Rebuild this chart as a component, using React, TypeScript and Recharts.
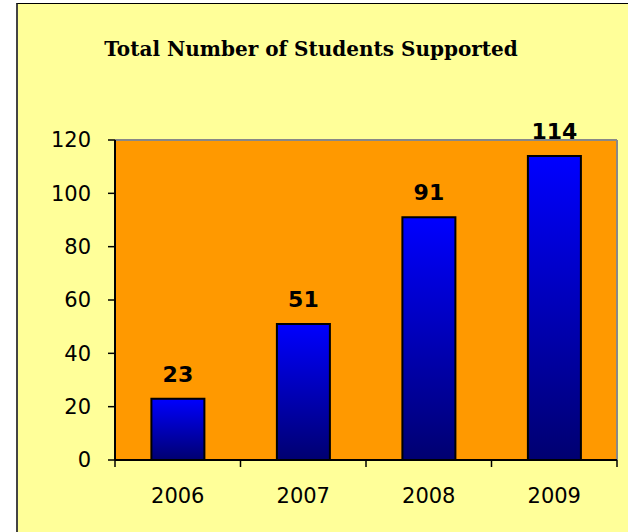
import { ComposedChart, Bar, Line, XAxis, YAxis, LabelList, ReferenceLine } from 'recharts'

// Total Number of Students Supported — Excel-style bar chart, yellow canvas, orange plot area

const YEARS = ['2006', '2007', '2008', '2009']
const STUDENTS = [23, 51, 91, 114]
const Y_TICKS = [0, 20, 40, 60, 80, 100, 120]
const BOUNDARY_TICKS = [0, 1, 2, 3, 4]

const data = YEARS.map((year, i) => ({ year, students: STUDENTS[i], pos: i + 0.5 }))

const FONT = '"DejaVu Sans", Verdana, sans-serif'

// plot box (from chart margins / axis sizes below)
const PLOT = { left: 115, top: 140, right: 617, bottom: 460 }

const NoTick = () => <g />

export default function App() {
  return (
    <div style={{ position: 'absolute', left: 0, top: 0, width: 628, height: 532, background: '#fff', overflow: 'hidden' }}>
      <div
        style={{
          position: 'absolute',
          left: 16,
          top: 3,
          width: 700,
          height: 600,
          background: '#FFFF99',
          borderLeft: '2px solid #444',
          borderTop: '1px solid #000',
        }}
      />
      {/* orange plot area, sits behind the svg */}
      <div
        style={{
          position: 'absolute',
          left: PLOT.left,
          top: PLOT.top,
          width: PLOT.right - PLOT.left,
          height: PLOT.bottom - PLOT.top,
          background: '#FF9900',
        }}
      />
      <div
        style={{
          position: 'absolute',
          left: 0,
          top: 37,
          width: 622,
          textAlign: 'center',
          fontFamily: '"DejaVu Serif", "Liberation Serif", serif',
          fontWeight: 'bold',
          fontSize: 20,
          color: '#000',
        }}
      >
        Total Number of Students Supported
      </div>
      <div style={{ position: 'absolute', left: 0, top: 0 }}>
        <ComposedChart
          width={628}
          height={532}
          data={data}
          margin={{ top: PLOT.top, right: 628 - PLOT.right, bottom: 0, left: 0 }}
          barCategoryGap="29%"
        >
          <defs>
            <linearGradient id="barBlue" x1="0" y1="0" x2="0" y2="1">
              <stop offset="0%" stopColor="#0000FF" />
              <stop offset="100%" stopColor="#000070" />
            </linearGradient>
          </defs>
          <YAxis
            domain={[0, 120]}
            ticks={Y_TICKS}
            interval={0}
            width={PLOT.left}
            axisLine={{ stroke: '#000', strokeWidth: 2 }}
            tickLine={{ stroke: '#000', strokeWidth: 1.5 }}
            tickSize={7}
            tickMargin={17}
            tick={{ fontSize: 21, fill: '#000', fontFamily: FONT }}
          />
          {/* boundary ticks between categories (default x axis, sits on the plot bottom) */}
          <XAxis
            type="number"
            dataKey="pos"
            domain={[0, 4]}
            ticks={BOUNDARY_TICKS}
            interval={0}
            height={1}
            tick={NoTick}
            axisLine={{ stroke: '#000', strokeWidth: 2 }}
            tickLine={{ stroke: '#000', strokeWidth: 1.5 }}
            tickSize={7}
          />
          <XAxis
            xAxisId="cat"
            dataKey="year"
            height={531 - PLOT.bottom}
            axisLine={false}
            tickLine={false}
            tickSize={0}
            tickMargin={27}
            tick={{ fontSize: 21, fill: '#000', fontFamily: FONT }}
          />
          {/* plot frame: gray top/right, black left/bottom */}
          <ReferenceLine y={120} stroke="#888" strokeWidth={2} />
          <ReferenceLine x={4} stroke="#888" strokeWidth={2} />
          <ReferenceLine x={0} stroke="#000" strokeWidth={2} />
          <ReferenceLine y={0} stroke="#000" strokeWidth={2} />
          <Bar
            xAxisId="cat"
            dataKey="students"
            fill="url(#barBlue)"
            stroke="#000"
            strokeWidth={2}
            isAnimationActive={false}
          >
            <LabelList
              dataKey="students"
              position="top"
              offset={17}
              style={{ fontSize: 22, fontWeight: 'bold', fill: '#000', fontFamily: FONT }}
            />
          </Bar>
          {/* invisible series so the boundary axis gets a domain and is drawn */}
          <Line
            dataKey="students"
            stroke="none"
            dot={false}
            activeDot={false}
            legendType="none"
            isAnimationActive={false}
          />
        </ComposedChart>
      </div>
    </div>
  )
}
